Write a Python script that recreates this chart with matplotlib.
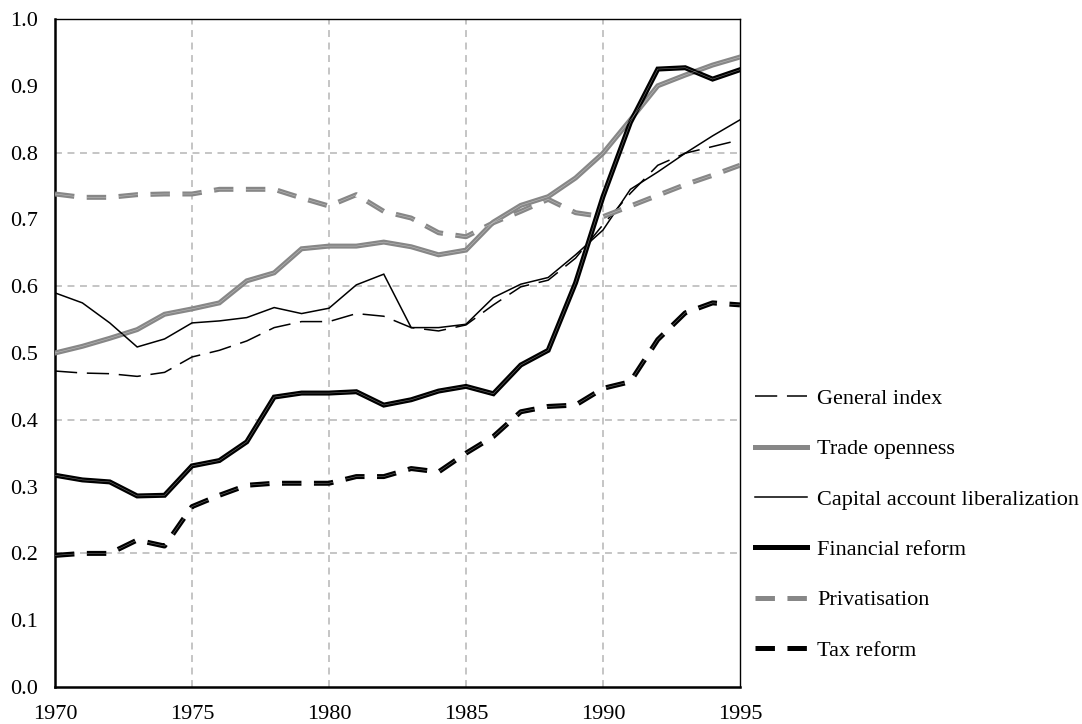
import matplotlib
matplotlib.use('Agg')
import matplotlib.pyplot as plt

plt.rcParams['font.family'] = ['Liberation Serif', 'DejaVu Serif']
plt.rcParams['lines.scale_dashes'] = False

years = list(range(1970, 1996))

general_index = [0.473, 0.470, 0.469, 0.465, 0.471, 0.494, 0.504, 0.518, 0.538, 0.547,
                 0.547, 0.559, 0.555, 0.538, 0.533, 0.542, 0.572, 0.599, 0.609, 0.642,
                 0.692, 0.739, 0.781, 0.799, 0.809, 0.819]
trade_openness = [0.500, 0.510, 0.522, 0.535, 0.558, 0.566, 0.575, 0.608, 0.620, 0.656,
                  0.660, 0.660, 0.666, 0.659, 0.647, 0.654, 0.696, 0.721, 0.734, 0.762,
                  0.799, 0.849, 0.900, 0.916, 0.931, 0.943]
capital_account = [0.590, 0.575, 0.545, 0.509, 0.521, 0.545, 0.548, 0.553, 0.568, 0.559,
                   0.567, 0.602, 0.618, 0.538, 0.538, 0.543, 0.583, 0.603, 0.613, 0.647,
                   0.684, 0.745, 0.771, 0.799, 0.825, 0.849]
financial_reform = [0.317, 0.310, 0.307, 0.286, 0.287, 0.331, 0.339, 0.367, 0.434, 0.440,
                    0.440, 0.442, 0.422, 0.430, 0.443, 0.450, 0.439, 0.482, 0.504, 0.605,
                    0.734, 0.845, 0.925, 0.927, 0.910, 0.924]
privatisation = [0.738, 0.733, 0.733, 0.737, 0.738, 0.738, 0.745, 0.745, 0.745, 0.732,
                 0.720, 0.737, 0.712, 0.702, 0.680, 0.674, 0.695, 0.712, 0.730, 0.710,
                 0.704, 0.720, 0.736, 0.752, 0.766, 0.781]
tax_reform = [0.197, 0.200, 0.200, 0.220, 0.211, 0.270, 0.287, 0.302, 0.305, 0.305,
              0.305, 0.315, 0.315, 0.327, 0.322, 0.350, 0.375, 0.412, 0.420, 0.422,
              0.447, 0.457, 0.520, 0.560, 0.575, 0.572]

labels = ['General index', 'Trade openness', 'Capital account liberalization',
          'Financial reform', 'Privatisation', 'Tax reform']

grey = '#878787'
dash_thin = (0, (16, 7))
dash_thick = (0, (14, 9))

fig = plt.figure(figsize=(10.82, 7.24), dpi=100)
ax = fig.add_axes([0.0508, 0.0511, 0.6331, 0.9227])

# grid
for yv in [0.2, 0.4, 0.6, 0.8]:
    ax.axhline(yv, color='#c0c0c0', lw=1.3, ls=(0, (5, 4)), zorder=0)
for xv in [1975, 1980, 1985, 1990]:
    ax.axvline(xv, color='#c0c0c0', lw=1.3, ls=(0, (5, 4)), zorder=0)

series = [
    (general_index, 'black', 1.1, dash_thin),
    (trade_openness, grey, 3.6, '-'),
    (capital_account, 'black', 1.1, '-'),
    (financial_reform, 'black', 3.6, '-'),
    (privatisation, grey, 3.6, dash_thick),
    (tax_reform, 'black', 3.6, dash_thick),
]

handles = []
for (vals, col, lw, ls), lab in zip(series, labels):
    h, = ax.plot(years, vals, color=col, lw=lw, ls=ls, label=lab,
                 solid_joinstyle='miter', dash_capstyle='butt', zorder=3)
    if lw > 2:
        # thin light core like the double line of the original
        ax.plot(years, vals, color='white', lw=0.4, ls=ls, alpha=0.45,
                dash_capstyle='butt', zorder=4)
    handles.append(h)

ax.set_xlim(1970, 1995)
ax.set_ylim(0, 1.0)
ax.set_xticks([1970, 1975, 1980, 1985, 1990, 1995])
ax.set_yticks([i / 10 for i in range(11)])
ax.set_yticklabels(['%.1f' % (i / 10) for i in range(11)])
ax.tick_params(length=0, labelsize=16)
ax.tick_params(axis='y', pad=12)
ax.tick_params(axis='x', pad=13)

for side in ['left', 'bottom']:
    ax.spines[side].set_linewidth(1.8)
for side in ['top', 'right']:
    ax.spines[side].set_linewidth(1.0)

fig.legend(handles=handles, labels=labels, loc='center left',
           bbox_to_anchor=(0.6975, 0.2755), frameon=False, fontsize=16,
           handlelength=2.35, handletextpad=0.45, labelspacing=1.34,
           borderpad=0, borderaxespad=0)

fig.savefig('out.png', dpi=100)
